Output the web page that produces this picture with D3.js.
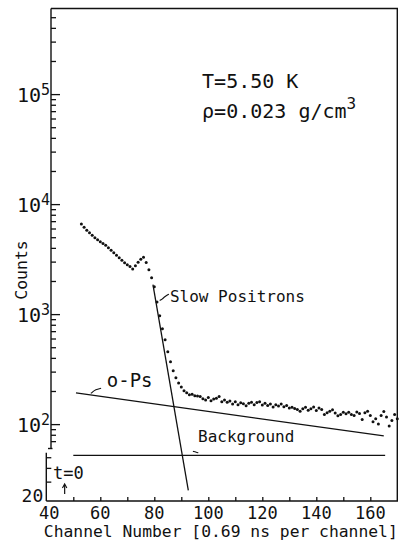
<!DOCTYPE html>
<html>
<head>
<meta charset="utf-8">
<script src="https://cdn.jsdelivr.net/npm/d3@7"></script>
<style>
  html, body { margin: 0; padding: 0; background: #fff; }
  svg { display: block; }
  text { font-family: "DejaVu Sans Mono", "Liberation Mono", monospace; fill: #111; }
</style>
</head>
<body>
<svg id="chart" width="402" height="544"></svg>
<script>
// Positron lifetime spectrum, one count value per channel starting at firstChannel
const firstChannel = 53;
const counts = [
  6580, 6150, 5780, 5490, 5200, 4940, 4730, 4540, 4380, 4220,
  4010, 3800, 3610, 3430, 3250, 3090, 2930, 2810, 2710, 2570,
  2750, 2960, 3150, 3280, 2945, 2530, 2140, 1770, 1290, 966,
  735, 584, 454, 369, 305, 264, 237, 218, 201, 193,
  185, 187, 181,
  180, 178, 170, 166, 175, 163, 169, 172, 178, 160,
  166, 158, 162, 152, 160, 150, 156, 153, 147, 155,
  158, 150, 157, 160, 149, 155, 148, 152, 143, 150,
  146, 152, 144, 148, 140, 142, 139, 136, 131, 138,
  142, 134, 138, 143, 133, 140, 136, 122, 127, 131,
  135, 126, 119, 122, 128, 124, 128, 122, 120, 129,
  125, 110, 127, 131, 120, 105, 112, 100, 120, 130,
  116, 96, 108, 122, 112
];

// Fitted components (straight lines on the log scale)
const oPsFit = [{ channel: 51, count: 192 }, { channel: 165, count: 78 }];
const backgroundFit = [{ channel: 50, count: 52 }, { channel: 165.5, count: 52 }];
const slowPositronFit = [{ channel: 79.5, count: 1850 }, { channel: 92.6, count: 25 }];

// Axis ticks
const xTickLabels = [40, 60, 80, 100, 120, 140, 160];
const xTicks = [50, 60, 70, 80, 90, 100, 110, 120, 130, 140, 150, 160];
const yDecades = [100, 1000, 10000, 100000];
const yMinorUpper = [70, 80, 90, 200, 300, 400, 500, 600, 700, 800, 900,
  2000, 3000, 4000, 5000, 6000, 7000, 8000, 9000,
  20000, 30000, 40000, 50000, 60000, 70000, 80000, 90000,
  200000, 300000, 400000, 500000];
const yMinorLower = [30, 40, 50];

// Axis break between the two segments of the left axis
const breakLow = 55, breakHigh = 60;

const svg = d3.select("#chart");

const x = d3.scaleLinear().domain([40, 170]).range([46.3, 397.3]);
const y = d3.scaleLog().domain([20, 600000]).range([501, 8.5]);

const data = counts.map((c, i) => ({ channel: firstChannel + i, count: c }));

const ink = "#111";
const upperAxisX = x(40) + 4.7;

// Frame: top, right, bottom
const frame = svg.append("g").attr("stroke", ink).attr("stroke-width", 1.4).attr("fill", "none");
frame.append("path").attr("d", d3.line()([
  [upperAxisX, y(600000)], [x(170), y(600000)], [x(170), y(20)], [x(40), y(20)]
]));
// Left axis, drawn in two segments around the break
frame.append("line").attr("x1", upperAxisX).attr("x2", upperAxisX)
  .attr("y1", y(600000)).attr("y2", y(breakHigh));
frame.append("line").attr("x1", x(40)).attr("x2", x(40))
  .attr("y1", y(breakLow)).attr("y2", y(20));
frame.append("line").attr("x1", upperAxisX - 3).attr("x2", upperAxisX + 1.5)
  .attr("y1", y(breakHigh)).attr("y2", y(breakHigh));

function styleAxis(g) {
  g.select(".domain").remove();
  g.selectAll(".tick line").attr("stroke", ink).attr("stroke-width", 1.3);
  g.selectAll(".tick text").remove();
}

// Left axis ticks (pointing inward)
svg.append("g").attr("transform", `translate(${upperAxisX},0)`)
  .call(d3.axisRight(y).tickValues(yMinorUpper).tickSize(5).tickFormat(""))
  .call(styleAxis);
svg.append("g").attr("transform", `translate(${upperAxisX},0)`)
  .call(d3.axisRight(y).tickValues(yDecades).tickSize(9).tickFormat(""))
  .call(styleAxis);
svg.append("g").attr("transform", `translate(${x(40)},0)`)
  .call(d3.axisRight(y).tickValues(yMinorLower).tickSize(5).tickFormat(""))
  .call(styleAxis);

// Bottom axis ticks (pointing up)
svg.append("g").attr("transform", `translate(0,${y(20)})`)
  .call(d3.axisTop(x).tickValues(xTicks).tickSize(4).tickFormat(""))
  .call(styleAxis);

// Y tick labels as powers of ten
const yLab = svg.append("g");
yDecades.forEach(v => {
  const t = yLab.append("text")
    .attr("x", upperAxisX - 1)
    .attr("y", y(v) + 8)
    .attr("text-anchor", "end")
    .style("font-size", "20px");
  t.append("tspan").text("10");
  t.append("tspan").attr("dy", -7).style("font-size", "15px").text(Math.round(Math.log10(v)));
});
yLab.append("text")
  .attr("x", x(40) - 3).attr("y", y(20) + 1)
  .attr("text-anchor", "end").style("font-size", "18px").text("20");

// X tick labels
svg.append("g").selectAll("text").data(xTickLabels).join("text")
  .attr("x", d => x(d) + (d === 40 ? 3 : 0))
  .attr("y", 519)
  .attr("text-anchor", "middle")
  .style("font-size", "17px")
  .text(d => d);

// Axis titles
svg.append("text")
  .attr("x", (x(40) + x(170)) / 2 - 1).attr("y", 537)
  .attr("text-anchor", "middle")
  .attr("textLength", 354).attr("lengthAdjust", "spacingAndGlyphs")
  .style("font-size", "16.5px")
  .text("Channel Number [0.69 ns per channel]");
svg.append("text")
  .attr("transform", `translate(27,270) rotate(-90)`)
  .attr("text-anchor", "middle")
  .style("font-size", "16.5px")
  .text("Counts");

// Fitted lines
const fitLine = d3.line().x(d => x(d.channel)).y(d => y(d.count));
[oPsFit, backgroundFit, slowPositronFit].forEach(seg => {
  svg.append("path").attr("d", fitLine(seg))
    .attr("fill", "none").attr("stroke", ink).attr("stroke-width", 1.3);
});

// Measured spectrum
svg.append("g").selectAll("circle").data(data).join("circle")
  .attr("cx", d => x(d.channel))
  .attr("cy", d => y(d.count))
  .attr("r", 1.5)
  .attr("fill", ink);

// Annotations
const note = (ch, c, txt, size) => svg.append("text")
  .attr("x", x(ch)).attr("y", y(c)).style("font-size", size + "px").text(txt);

note(97.7, 113500, "T=5.50 K", 20);
const rho = note(97.7, 60700, "ρ=0.023 g/cm", 20);
rho.append("tspan").attr("dy", -9).style("font-size", "16px").text("3");

note(62.4, 219, "o-Ps", 19);
note(85.8, 1297, "Slow Positrons", 16);
note(96.2, 69.2, "Background", 16);
note(42.5, 31.7, "t=0", 17);

// Pointer hooks from labels to lines
const hook = d3.line().curve(d3.curveBasis);
const hookAt = (pts) => svg.append("path")
  .attr("d", hook(pts.map(p => [x(p[0]), y(p[1])])))
  .attr("fill", "none").attr("stroke", ink).attr("stroke-width", 1.1);

hookAt([[60.3, 212], [58.2, 206], [57.1, 196], [56.5, 190]]);
hookAt([[85.4, 1520], [84, 1450], [82.8, 1360], [82, 1330]]);
hookAt([[94.3, 56.5], [95.6, 55.5], [96.3, 54.8]]);

// t = 0 marker arrow
const tx = x(46.8);
svg.append("line").attr("x1", tx).attr("x2", tx).attr("y1", 494).attr("y2", 485)
  .attr("stroke", ink).attr("stroke-width", 1.2);
svg.append("path").attr("d", `M${tx - 2.2},488 L${tx},484 L${tx + 2.2},488`)
  .attr("fill", "none").attr("stroke", ink).attr("stroke-width", 1.1);
</script>
</body>
</html>
